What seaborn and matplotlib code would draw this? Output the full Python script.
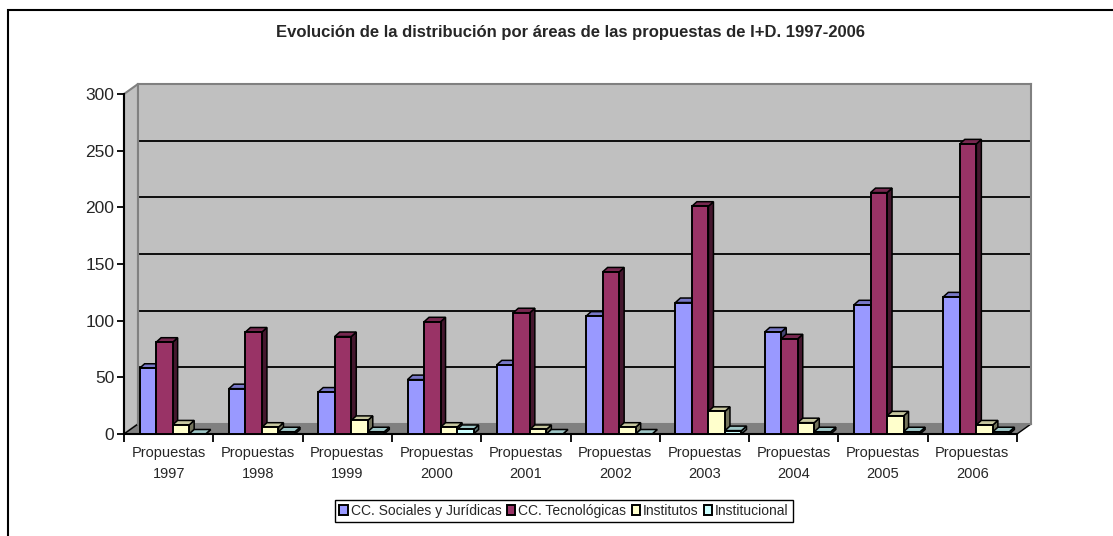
import numpy as np
import pandas as pd
import matplotlib
matplotlib.use("Agg")
import matplotlib.pyplot as plt
import matplotlib.colors as mcolors
from matplotlib.patches import Polygon, Rectangle
import seaborn as sns

# datos
anios = ["1997", "1998", "1999", "2000", "2001", "2002", "2003", "2004", "2005", "2006"]
etiquetas = ["Propuestas\n" + a for a in anios]
areas = ["CC. Sociales y Jurídicas", "CC. Tecnológicas", "Institutos", "Institucional"]
sociales = [58, 40, 37, 48, 61, 104, 116, 90, 114, 121]
tecnologicas = [81, 90, 86, 99, 107, 143, 201, 84, 213, 256]
institutos = [8, 6, 12, 6, 4, 6, 20, 10, 16, 8]
institucional = [0, 2, 2, 4, 0, 0, 3, 2, 2, 2]
colores = ["#9999FF", "#993366", "#FFFFCC", "#CCFFFF"]
titulo = "Evolución de la distribución por áreas de las propuestas de I+D. 1997-2006"

df = pd.DataFrame({
    "etiqueta": etiquetas * 4,
    "area": np.repeat(areas, len(anios)),
    "valor": sociales + tecnologicas + institutos + institucional,
})

sns.set_theme(style="white")
plt.rcParams["font.family"] = ["Liberation Sans", "DejaVu Sans"]

W, H = 1113, 536
fig = plt.figure(figsize=(W / 100, H / 100), dpi=100)


def fx(px):
    return px / W


def fy(py):
    return 1 - py / H


# posiciones en pixeles (frente y fondo del grafico 3d)
left, right, top, bottom = 124, 1017, 94, 434
off_x, off_y = 14, 10

# pared del fondo
ax_back = fig.add_axes([fx(left + off_x), fy(bottom - off_y), fx(right - left), (bottom - top) / H])
ax_back.set_facecolor("#C0C0C0")
ax_back.set_ylim(0, 300)
ax_back.set_xlim(0, 1)
for v in [50, 100, 150, 200, 250]:
    ax_back.axhline(v, color="black", lw=1.3)
ax_back.set_xticks([])
ax_back.set_yticks([])
for s in ax_back.spines.values():
    s.set_color("#808080")
    s.set_linewidth(1.5)

# pared izquierda y suelo
pared = Polygon([(fx(left), fy(bottom)), (fx(left), fy(top)), (fx(left + off_x), fy(top - off_y)),
                 (fx(left + off_x), fy(bottom - off_y))], closed=True, transform=fig.transFigure,
                facecolor="#C0C0C0", edgecolor="#808080", lw=1.5, zorder=-1)
suelo = Polygon([(fx(left), fy(bottom)), (fx(right), fy(bottom)), (fx(right + off_x), fy(bottom - off_y)),
                 (fx(left + off_x), fy(bottom - off_y))], closed=True, transform=fig.transFigure,
                facecolor="#808080", edgecolor="black", lw=1, zorder=-1)
fig.patches.extend([pared, suelo])

# ejes del frente con las barras
ax = fig.add_axes([fx(left), fy(bottom), fx(right - left), (bottom - top) / H])
ax.patch.set_alpha(0)
sns.barplot(data=df, x="etiqueta", y="valor", hue="area", hue_order=areas, palette=colores,
            saturation=1, width=0.74, edgecolor="black", linewidth=1.4, ax=ax)
ax.set_ylim(0, 300)
ax.set_xlim(-0.5, len(anios) - 0.5)

# caras laterales y superiores de las barras (efecto 3d)
px_cat = (right - left) / len(anios)
dx = 5 / px_cat
dy = 4.5 / ((bottom - top) / 300)
desplaza = 4 / px_cat
for p in list(ax.patches):
    if not isinstance(p, Rectangle) or p.get_width() == 0:
        continue
    p.set_x(p.get_x() + desplaza)
    x0, w, h = p.get_x(), p.get_width(), p.get_height()
    c = np.array(mcolors.to_rgb(p.get_facecolor()))
    lado = Polygon([(x0 + w, 0), (x0 + w, h), (x0 + w + dx, h + dy), (x0 + w + dx, dy)],
                   facecolor=c * 0.45, edgecolor="black", lw=1.1, zorder=2)
    techo = Polygon([(x0, h), (x0 + w, h), (x0 + w + dx, h + dy), (x0 + dx, h + dy)],
                    facecolor=c * 0.78, edgecolor="black", lw=1.1, zorder=2)
    ax.add_patch(lado)
    ax.add_patch(techo)
    p.set_zorder(3)

handles, labels = ax.get_legend_handles_labels()
if ax.get_legend() is not None:
    ax.get_legend().remove()

for s in ["top", "right"]:
    ax.spines[s].set_visible(False)
for s in ["left", "bottom"]:
    ax.spines[s].set_color("black")
    ax.spines[s].set_linewidth(1.5)

ax.set_yticks([0, 50, 100, 150, 200, 250, 300])
ax.tick_params(axis="y", left=True, length=5, width=1.3, color="black", labelsize=12.5, pad=2)
ax.set_xticks(range(len(anios)))
ax.set_xticklabels(etiquetas, linespacing=1.55)
ax.set_xticks(np.arange(-0.5, len(anios)), minor=True)
ax.tick_params(axis="x", which="major", length=0, labelsize=10.5, pad=9)
ax.tick_params(axis="x", which="minor", bottom=True, length=6, width=1.3, color="black")
ax.set_xlabel("")
ax.set_ylabel("")

fig.text(fx(570), fy(33), titulo, ha="center", va="center", fontsize=12, fontweight="bold")

lg = fig.legend(handles, labels, loc="center", bbox_to_anchor=(fx(564), fy(511)), ncol=4, fontsize=10,
                frameon=True, fancybox=False, edgecolor="black", framealpha=1, handlelength=0.6,
                handleheight=0.7, handletextpad=0.2, columnspacing=0.4, borderpad=0.3)
lg.get_frame().set_linewidth(1)

# marco exterior
marco = Rectangle((fx(8), -0.02), 1.05, fy(10) + 0.02, transform=fig.transFigure, fill=False,
                  edgecolor="black", lw=1.5)
fig.patches.append(marco)

fig.savefig("out.png", dpi=100)
